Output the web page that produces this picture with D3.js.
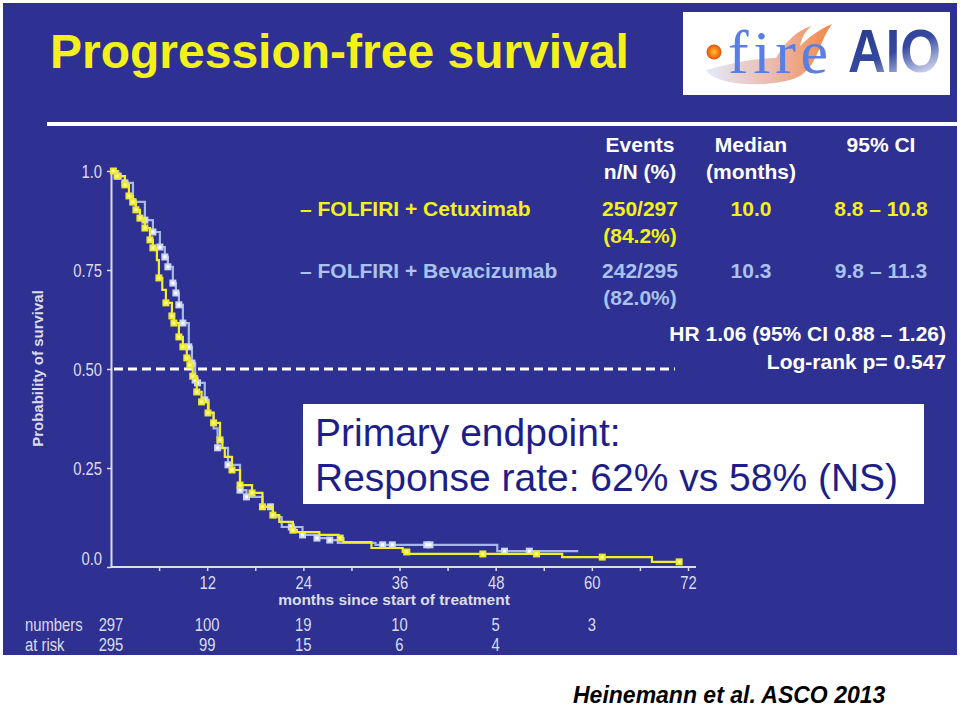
<!DOCTYPE html>
<html><head><meta charset="utf-8">
<script src="https://cdn.jsdelivr.net/npm/d3@7"></script>
<style>body{margin:0;background:#fff}</style>
</head><body><svg id="c" width="960" height="707"></svg>
<script>
// ---------- DATA ----------
const cetuxTimes = [0, 0.75, 1.74, 2.24, 2.74, 3.11, 3.61, 4.23, 4.86, 5.23, 5.73, 5.98, 6.4, 6.85, 7.6, 7.85, 8.47, 8.97, 9.46, 9.84, 10.2, 10.7, 11.3, 12.1, 12.8, 13.6, 13.9, 14.2, 15.1, 16.1, 17.6, 18.9, 20.2, 21.0, 22.7, 23.2, 26.0, 28.4, 29.0, 32.5, 36.4, 37.2, 56.3, 67.5, 71.0];
const cetuxSurv  = [1.0, 0.987, 0.965, 0.937, 0.922, 0.902, 0.881, 0.856, 0.826, 0.806, 0.775, 0.730, 0.700, 0.667, 0.634, 0.616, 0.581, 0.556, 0.528, 0.510, 0.482, 0.442, 0.417, 0.389, 0.364, 0.321, 0.300, 0.278, 0.245, 0.207, 0.187, 0.152, 0.131, 0.114, 0.093, 0.088, 0.081, 0.073, 0.063, 0.048, 0.038, 0.033, 0.025, 0.013, 0.013];
const cetuxCensor = [0.3, 0.75, 1.74, 2.24, 2.74, 3.11, 3.61, 4.23, 4.86, 5.23, 5.98, 6.85, 7.6, 7.85, 8.47, 8.97, 9.46, 9.84, 10.2, 10.7, 11.3, 12.1, 12.8, 13.6, 15.1, 16.1, 17.6, 18.9, 20.2, 22.7, 28.6, 36.9, 46.4, 53.1, 61.3, 70.9];

const bevTimes = [0, 0.9, 1.74, 2.74, 4.23, 5.23, 6.1, 6.72, 7.1, 7.72, 8.1, 8.47, 8.97, 9.71, 10.1, 10.5, 10.8, 11.7, 12.2, 12.8, 13.3, 14.6, 16.1, 16.9, 18.9, 20.2, 21.3, 23.9, 25.7, 27.3, 28.3, 33.0, 48.2, 58.3];
const bevSurv  = [1.0, 0.987, 0.970, 0.922, 0.876, 0.846, 0.808, 0.783, 0.758, 0.717, 0.692, 0.662, 0.616, 0.556, 0.515, 0.472, 0.465, 0.422, 0.390, 0.350, 0.301, 0.258, 0.194, 0.177, 0.152, 0.126, 0.101, 0.081, 0.073, 0.068, 0.061, 0.056, 0.040, 0.040];
const bevCensor = [0.9, 1.74, 2.74, 4.23, 5.23, 6.1, 6.72, 7.1, 7.72, 8.1, 8.47, 8.97, 9.71, 10.1, 10.5, 10.8, 11.7, 13.3, 14.6, 16.1, 16.9, 19.9, 22.5, 23.9, 25.7, 27.3, 33.9, 35.1, 39.4, 39.8, 49.1, 52.2];

const xTicks = [12, 24, 36, 48, 60, 72];
const yTicks = [0, 0.25, 0.5, 0.75, 1.0];
const yTickLabels = ["0.0", "0.25", "0.50", "0.75", "1.0"];

const riskTimes = [0, 12, 24, 36, 48, 60];
const riskCetux = ["297", "100", "19", "10", "5", "3"];
const riskBev   = ["295", "99", "15", "6", "4", ""];

const seriesNames  = ["– FOLFIRI + Cetuximab", "– FOLFIRI + Bevacizumab"];
const seriesEvents = ["250/297", "242/295"];
const seriesPct    = ["(84.2%)", "(82.0%)"];
const seriesMedian = ["10.0", "10.3"];
const seriesCI     = ["8.8 – 10.8", "9.8 – 11.3"];

// ---------- DRAW ----------
const svg = d3.select("#c");
const BG = "#2e3192", YEL = "#f4f01c", LBLUE = "#a9c2ee", AXC = "#dcdcec";
const SANS = "Liberation Sans, Arial, sans-serif";

// compress a text horizontally (narrow-font look)
function squeeze(sel, f) {
  sel.each(function () {
    const w = this.getComputedTextLength();
    if (w > 0) d3.select(this).attr("textLength", w * f).attr("lengthAdjust", "spacingAndGlyphs");
  });
}

svg.append("rect").attr("x", 3).attr("y", 3).attr("width", 954).attr("height", 652).attr("fill", BG);

// title
svg.append("text").attr("x", 50).attr("y", 68).attr("fill", YEL)
  .attr("font-family", SANS).attr("font-weight", "bold")
  .attr("font-size", 48).text("Progression-free survival");
svg.append("rect").attr("x", 47).attr("y", 122).attr("width", 911).attr("height", 4).attr("fill", "#fff");

// logo
const defs = svg.append("defs");
const fg = defs.append("linearGradient").attr("id", "flame").attr("x1", "0").attr("x2", "1").attr("y1", "0").attr("y2", "0");
fg.append("stop").attr("offset", "0").attr("stop-color", "#dfe8fa");
fg.append("stop").attr("offset", "0.55").attr("stop-color", "#e9b0a0");
fg.append("stop").attr("offset", "1").attr("stop-color", "#f07a30");
const dg = defs.append("radialGradient").attr("id", "dot");
dg.append("stop").attr("offset", "0").attr("stop-color", "#ffc030");
dg.append("stop").attr("offset", "1").attr("stop-color", "#e8500c");
const ag = defs.append("linearGradient").attr("id", "aio").attr("x1", "0").attr("x2", "0.6").attr("y1", "0").attr("y2", "1");
ag.append("stop").attr("offset", "0").attr("stop-color", "#22348a");
ag.append("stop").attr("offset", "0.6").attr("stop-color", "#34499f");
ag.append("stop").attr("offset", "1").attr("stop-color", "#d8def4");

svg.append("rect").attr("x", 683).attr("y", 12).attr("width", 267).attr("height", 83).attr("fill", "#fff");
svg.append("path").attr("d", "M706,70 C715,85 760,88 790,80 C805,76 812,66 818,52 C822,42 826,32 832,24 C818,30 808,38 800,46 C802,36 806,30 812,26 C796,30 784,44 776,58 C760,58 735,62 706,70 Z")
  .attr("fill", "url(#flame)").attr("opacity", 0.9);
svg.append("circle").attr("cx", 714).attr("cy", 52).attr("r", 7.5).attr("fill", "url(#dot)");
svg.append("text").attr("x", 728).attr("y", 73).attr("fill", "#5a7ee2")
  .attr("font-family", "Liberation Serif, DejaVu Serif, serif").attr("font-size", 62)
  .attr("textLength", 100).attr("lengthAdjust", "spacing").text("fire");
svg.append("text").attr("x", 848).attr("y", 72).attr("fill", "url(#aio)")
  .attr("font-family", SANS).attr("font-weight", "bold").attr("font-size", 62)
  .attr("textLength", 93).attr("lengthAdjust", "spacingAndGlyphs").text("AIO");

// scales
const x = d3.scaleLinear().domain([0, 72]).range([111, 688]);
const y = d3.scaleLinear().domain([0, 1]).range([567, 171]);

// axes
const gx = svg.append("g").attr("transform", `translate(0,${y(0)})`)
  .call(d3.axisBottom(x).tickValues(d3.range(6, 73, 6)).tickSizeInner(4).tickSizeOuter(0)
    .tickFormat(d => xTicks.includes(d) ? d : ""));
gx.select(".domain").attr("stroke", AXC).attr("stroke-width", 2).attr("d", `M${x(0)},0H${x(73)}`);
gx.selectAll(".tick line").attr("stroke", AXC).attr("stroke-width", 1.5);
gx.selectAll(".tick text").attr("fill", AXC).attr("font-family", SANS).attr("font-size", 19).attr("dy", "0.78em");
squeeze(gx.selectAll(".tick text"), 0.78);

const gy = svg.append("g").attr("transform", `translate(${x(0)},0)`)
  .call(d3.axisLeft(y).tickValues(yTicks).tickSizeInner(4).tickSizeOuter(0)
    .tickFormat((d, i) => yTickLabels[i]));
gy.select(".domain").attr("stroke", AXC).attr("stroke-width", 2);
gy.selectAll(".tick line").attr("stroke", AXC).attr("stroke-width", 1.5);
gy.selectAll(".tick text").attr("fill", AXC).attr("font-family", SANS).attr("font-size", 19).attr("x", -9)
  .attr("dy", (d) => d === 0 ? "-0.15em" : "0.34em");
squeeze(gy.selectAll(".tick text"), 0.78);

svg.append("text").attr("transform", `translate(43,${(285 + 452) / 2}) rotate(-90)`).attr("text-anchor", "middle")
  .attr("fill", AXC).attr("font-family", SANS).attr("font-weight", "bold").attr("font-size", 15)
  .text("Probability of survival");
svg.append("text").attr("x", 394).attr("y", 605).attr("text-anchor", "middle")
  .attr("fill", AXC).attr("font-family", SANS).attr("font-weight", "bold").attr("font-size", 15.5)
  .text("months since start of treatment");

// median dashed line
svg.append("line").attr("x1", x(0) + 3).attr("x2", 675).attr("y1", y(0.5)).attr("y2", y(0.5))
  .attr("stroke", "#fff").attr("stroke-width", 3).attr("stroke-dasharray", "9,5");

// curves
function series(times, surv) { return times.map((t, i) => [t, surv[i]]); }
function stepAt(times, surv, t) { const i = d3.bisectRight(times, t) - 1; return surv[Math.max(0, i)]; }
const line = d3.line().x(d => x(d[0])).y(d => y(d[1])).curve(d3.curveStepAfter);

function drawSeries(times, surv, censor, col, mfill, minner) {
  svg.append("path").datum(series(times, surv)).attr("d", line).attr("fill", "none")
    .attr("stroke", col).attr("stroke-width", 2.2);
  const g = svg.append("g");
  g.selectAll("rect.m").data(censor).enter().append("rect")
    .attr("x", t => x(t) - 3.5).attr("y", t => y(stepAt(times, surv, t)) - 3.5)
    .attr("width", 7).attr("height", 7).attr("fill", mfill);
  g.selectAll("rect.i").data(censor).enter().append("rect")
    .attr("x", t => x(t) - 1.5).attr("y", t => y(stepAt(times, surv, t)) - 1.5)
    .attr("width", 3).attr("height", 3).attr("fill", minner);
}
drawSeries(bevTimes, bevSurv, bevCensor, "#a6b8ea", "#c9d4f2", "#ffffff");
drawSeries(cetuxTimes, cetuxSurv, cetuxCensor, "#f2ee2a", "#ece832", "#fffc90");

// table
const colX = [640, 751, 881];
function t(xp, yp, s, col, anchor) {
  svg.append("text").attr("x", xp).attr("y", yp).attr("fill", col).attr("text-anchor", anchor || "middle")
    .attr("font-family", SANS).attr("font-weight", "bold").attr("font-size", 21).text(s);
}
t(colX[0], 152, "Events", "#fff"); t(colX[0], 179, "n/N (%)", "#fff");
t(colX[1], 152, "Median", "#fff"); t(colX[1], 179, "(months)", "#fff");
t(colX[2], 152, "95% CI", "#fff");
const rowY = [216, 278];
const rowCol = [YEL, LBLUE];
seriesNames.forEach((n, i) => {
  t(300, rowY[i], n, rowCol[i], "start");
  t(colX[0], rowY[i], seriesEvents[i], rowCol[i]);
  t(colX[0], rowY[i] + 27, seriesPct[i], rowCol[i]);
  t(colX[1], rowY[i], seriesMedian[i], rowCol[i]);
  t(colX[2], rowY[i], seriesCI[i], rowCol[i]);
});
t(946, 341, "HR 1.06 (95% CI 0.88 – 1.26)", "#fff", "end");
t(946, 369, "Log-rank p= 0.547", "#fff", "end");

// white box
svg.append("rect").attr("x", 303).attr("y", 404).attr("width", 621).attr("height", 100).attr("fill", "#fff");
svg.append("text").attr("x", 315).attr("y", 446).attr("fill", "#1e1e8a").attr("font-family", SANS)
  .attr("font-size", 39).text("Primary endpoint:");
svg.append("text").attr("x", 315).attr("y", 491).attr("fill", "#1e1e8a").attr("font-family", SANS)
  .attr("font-size", 39).text("Response rate: 62% vs 58% (NS)");

// numbers at risk
const rf = (xp, yp, s, anchor) => svg.append("text").attr("x", xp).attr("y", yp).attr("fill", AXC)
  .attr("text-anchor", anchor || "middle").attr("font-family", SANS).attr("font-size", 19).text(s);
const riskTexts = [rf(25, 631, "numbers", "start"), rf(25, 651, "at risk", "start")];
riskTimes.forEach((tm, i) => {
  riskTexts.push(rf(x(tm), 631, riskCetux[i]));
  riskTexts.push(rf(x(tm), 651, riskBev[i]));
});
riskTexts.forEach(s => squeeze(s, 0.78));

// citation
svg.append("text").attr("x", 573).attr("y", 703).attr("fill", "#000").attr("font-family", SANS)
  .attr("font-weight", "bold").attr("font-style", "italic").attr("font-size", 23).text("Heinemann et al. ASCO 2013");
</script></body></html>
